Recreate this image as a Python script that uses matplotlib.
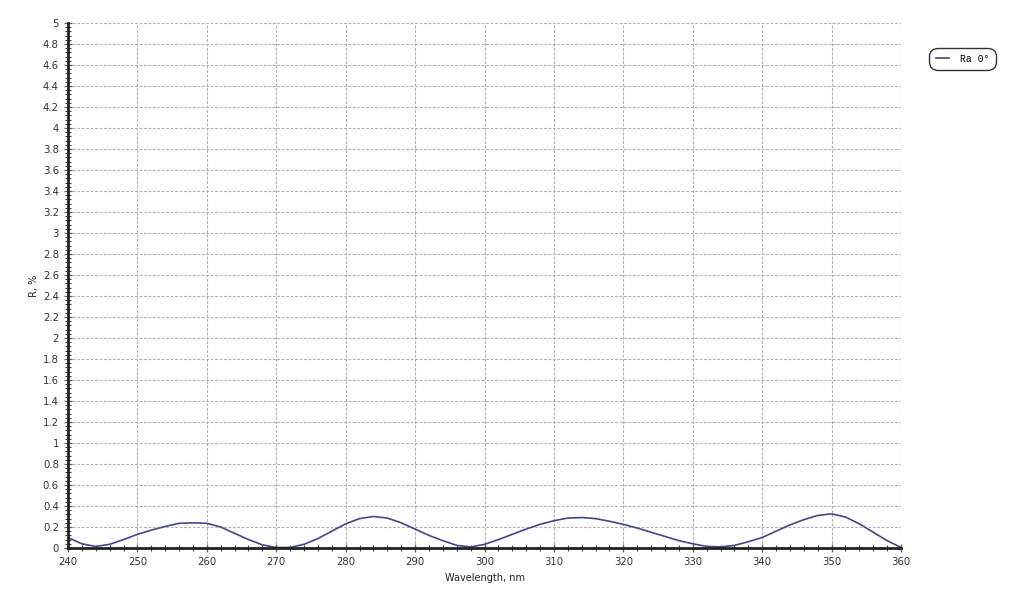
import matplotlib
matplotlib.use("Agg")
import matplotlib.pyplot as plt
from matplotlib.ticker import MultipleLocator

# wavelength, nm (every 2 nm) and reflectance, %
wavelength = list(range(240, 362, 2))
reflectance = [
    0.10, 0.04, 0.015, 0.035, 0.08, 0.13, 0.17, 0.205, 0.235, 0.24,
    0.235, 0.20, 0.14, 0.08, 0.03, 0.005, 0.005, 0.035, 0.09, 0.16,
    0.23, 0.28, 0.30, 0.285, 0.24, 0.18, 0.12, 0.07, 0.025, 0.01,
    0.035, 0.08, 0.13, 0.18, 0.225, 0.26, 0.285, 0.29, 0.28, 0.255,
    0.225, 0.19, 0.15, 0.11, 0.07, 0.04, 0.015, 0.01, 0.025, 0.06,
    0.10, 0.16, 0.22, 0.27, 0.31, 0.325, 0.295, 0.23, 0.15, 0.07,
    0.005,
]
series_label = "Ra 0°"

fig = plt.figure(figsize=(10.24, 6.07), dpi=100)
ax = fig.add_axes([0.0664, 0.0972, 0.8135, 0.865])

ax.plot(wavelength, reflectance, color="#45458a", linewidth=1.2, label=series_label)

ax.set_xlim(240, 360)
ax.set_ylim(0, 5)
ax.xaxis.set_major_locator(MultipleLocator(10))
ax.xaxis.set_minor_locator(MultipleLocator(2))
ax.yaxis.set_major_locator(MultipleLocator(0.2))
ax.yaxis.set_minor_locator(MultipleLocator(0.04))
ax.yaxis.set_major_formatter(matplotlib.ticker.FuncFormatter(lambda v, p: f"{v:g}"))

ax.grid(True, which="major", color="#b0b0b0", linestyle=(0, (2.5, 1.5)), linewidth=0.8)

for side in ("top", "right"):
    ax.spines[side].set_visible(False)
for side in ("left", "bottom"):
    ax.spines[side].set_linewidth(2)
    ax.spines[side].set_color("#222222")

ax.tick_params(which="major", direction="inout", length=6, width=1, color="#666666",
               labelsize=7.3, labelcolor="#333333")
ax.tick_params(which="minor", direction="inout", length=4, width=0.8, color="#444444")

ax.set_xlabel("Wavelength, nm", fontsize=7, color="#222222", labelpad=4)
ax.set_ylabel("R, %", fontsize=7, color="#222222", labelpad=3)

leg = fig.legend(loc="center", bbox_to_anchor=(0.940, 0.903),
                 prop={"family": "Liberation Mono", "size": 7},
                 handlelength=1.4, handletextpad=1.1, borderpad=0.3,
                 borderaxespad=0, fancybox=True, framealpha=1, edgecolor="#333333")
leg.get_frame().set_boxstyle("round", pad=0.35, rounding_size=0.9)
leg.get_frame().set_linewidth(1.0)

fig.savefig("out.png", dpi=100)
